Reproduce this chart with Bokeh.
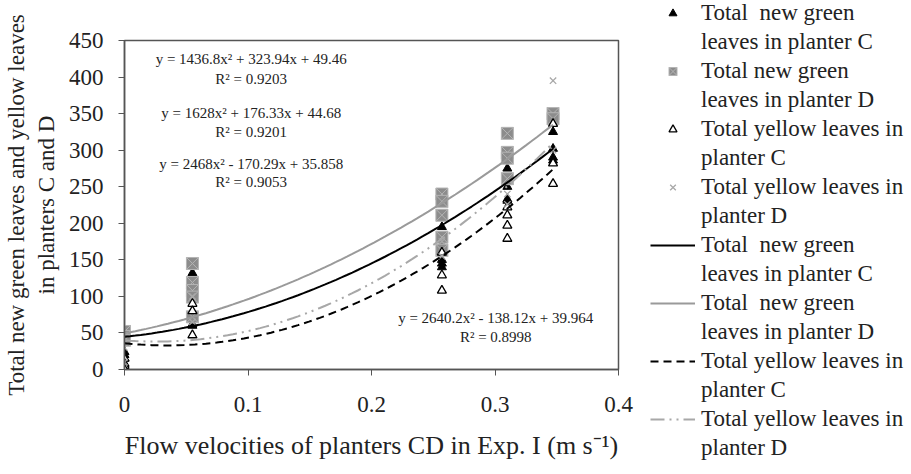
import numpy as np
from bokeh.plotting import figure
from bokeh.layouts import row, column
from bokeh.models import Range1d, FixedTicker, Legend, LegendItem, Label
from bokeh.embed import file_html
from bokeh.resources import INLINE

# ---------------- data ----------------
green_c_x = [0, 0, 0, 0.055, 0.055, 0.055, 0.055, 0.257, 0.257, 0.257, 0.257, 0.257,
             0.31, 0.31, 0.31, 0.31, 0.347, 0.347, 0.347, 0.347]
green_c_y = [24, 20, 15, 132, 75, 62, 60, 195, 170, 150, 145, 140,
             275, 250, 233, 231, 325, 302, 290, 286]

green_d_x = [0, 0, 0, 0.055, 0.055, 0.055, 0.055, 0.055, 0.257, 0.257, 0.257, 0.257, 0.257,
             0.31, 0.31, 0.31, 0.31, 0.347, 0.347]
green_d_y = [52, 45, 40, 145, 119, 108, 99, 72, 240, 230, 211, 181, 163,
             323, 297, 289, 261, 350, 343]

yellow_c_x = [0, 0, 0, 0, 0.055, 0.055, 0.055, 0.257, 0.257, 0.257,
              0.31, 0.31, 0.31, 0.31, 0.347, 0.347, 0.347]
yellow_c_y = [15, 8, 5, 0, 90, 80, 47, 160, 129, 108,
              222, 211, 197, 179, 336, 282, 254]

yellow_d_x = [0, 0, 0, 0.055, 0.055, 0.257, 0.257, 0.31, 0.31, 0.347, 0.347]
yellow_d_y = [40, 30, 10, 100, 65, 175, 155, 240, 226, 395, 300]

# quadratic trend-line coefficients (a, b, c) as printed on the chart
fit_green_c = [1628, 176.33, 44.68]
fit_green_d = [1436.8, 323.94, 49.46]
fit_yellow_c = [2468, -170.29, 35.858]
fit_yellow_d = [2640.2, -138.12, 39.964]
fit_x_max = 0.347

eq_texts = [
    "y = 1436.8x\u00b2 + 323.94x + 49.46", "R\u00b2 = 0.9203",
    "y = 1628x\u00b2 + 176.33x + 44.68", "R\u00b2 = 0.9201",
    "y = 2468x\u00b2 - 170.29x + 35.858", "R\u00b2 = 0.9053",
    "y = 2640.2x\u00b2 - 138.12x + 39.964", "R\u00b2 = 0.8998",
]

# legend entries: (first line, second line)
legend_labels = [
    ("Total  new green", "leaves in planter C"),
    ("Total new green", "leaves in planter D"),
    ("Total yellow leaves in", "planter C"),
    ("Total yellow leaves in", "planter D"),
    ("Total  new green", "leaves in planter C"),
    ("Total  new green", "leaves in planter D"),
    ("Total yellow leaves in", "planter C"),
    ("Total yellow leaves in", "planter D"),
]

x_ticks = [0, 0.1, 0.2, 0.3, 0.4]
x_tick_labels = ["0", "0.1", "0.2", "0.3", "0.4"]
y_ticks = [0, 50, 100, 150, 200, 250, 300, 350, 400, 450]

FONT = "Liberation Serif"
TXT = "#222222"

sty_gc = dict(marker="triangle", size=9, fill_color="black", line_color="black")
sty_gd = dict(marker="square_x", size=12, fill_color="#8c8c8c", line_color="#b4b4b4", line_width=1)
sty_yc = dict(marker="triangle", size=9, fill_color="white", line_color="black", line_width=1.3)
sty_yd = dict(marker="x", size=9, line_color="#a8a8a8", line_width=1.3)
lsty_gc = dict(line_color="black", line_width=2)
lsty_gd = dict(line_color="#9a9a9a", line_width=2)
lsty_yc = dict(line_color="black", line_width=2, line_dash="8 5")
lsty_yd = dict(line_color="#a8a8a8", line_width=2, line_dash="14 5 2 5 2 5")

p = figure(width=650, height=474, output_backend="svg", toolbar_location=None,
           x_range=Range1d(0, 0.4), y_range=Range1d(0, 450),
           min_border_left=123, min_border_right=32, min_border_top=40, min_border_bottom=105)
p.background_fill_color = "white"
p.border_fill_color = "white"
p.outline_line_color = "#555555"
p.outline_line_width = 1.5
p.grid.visible = False

p.xaxis.ticker = FixedTicker(ticks=x_ticks)
p.xaxis.major_label_overrides = {t: l for t, l in zip(x_ticks, x_tick_labels)}
p.yaxis.ticker = FixedTicker(ticks=y_ticks)
for ax in (p.xaxis, p.yaxis):
    ax.axis_line_color = "#555555"
    ax.axis_line_width = 1.5
    ax.major_tick_line_color = "#555555"
    ax.major_tick_out = 6
    ax.major_tick_in = 0
    ax.minor_tick_line_color = None
    ax.major_label_text_font = FONT
    ax.major_label_text_font_size = "23px"
    ax.major_label_text_color = TXT
    ax.axis_label_text_font = FONT
    ax.axis_label_text_font_style = "normal"
    ax.axis_label_text_color = TXT
p.xaxis.axis_label_text_font_size = "26px"
p.yaxis.axis_label_text_font_size = "23px"
p.xaxis.axis_label = "Flow velocities of planters CD in Exp. I (m s\u207b\u00b9)"
p.xaxis.major_label_standoff = 21
p.xaxis.axis_label_standoff = 16
p.yaxis.axis_label = "Total new green leaves and yellow leaves\nin planters C and D"
p.yaxis.major_label_standoff = 15
p.yaxis.axis_label_standoff = 7

# markers
p.scatter(green_c_x, green_c_y, **sty_gc)
p.scatter(green_d_x, green_d_y, **sty_gd)
p.scatter(yellow_c_x, yellow_c_y, **sty_yc)
p.scatter(yellow_d_x, yellow_d_y, **sty_yd)

# trend lines
xs = np.linspace(0, fit_x_max, 80)
def quad(c):
    return c[0] * xs ** 2 + c[1] * xs + c[2]

p.line(xs, quad(fit_green_c), **lsty_gc)
p.line(xs, quad(fit_green_d), **lsty_gd)
p.line(xs, quad(fit_yellow_c), **lsty_yc)
p.line(xs, quad(fit_yellow_d), **lsty_yd)

# equation labels
eq_pos = [(0.1026, 425), (0.1026, 398), (0.1026, 351), (0.1026, 325),
          (0.1026, 281), (0.1026, 256), (0.3006, 70), (0.3006, 44)]
for (ex, ey), t in zip(eq_pos, eq_texts):
    p.add_layout(Label(x=ex, y=ey, text=t, text_align="center", text_baseline="middle",
                       text_font=FONT, text_font_size="15px", text_color=TXT))

# ---------------- legend panel (separate figure) ----------------
lg = figure(width=261, height=474, output_backend="svg", toolbar_location=None,
            x_range=Range1d(-10, -9), y_range=Range1d(-10, -9),
            min_border_left=0, min_border_right=0, min_border_top=0, min_border_bottom=0)
lg.axis.visible = False
lg.grid.visible = False
lg.outline_line_color = None
lg.background_fill_color = "white"
lg.border_fill_color = "white"

# same series drawn in the legend figure (outside its visible range) to provide swatches
rs = [
    lg.scatter(green_c_x, green_c_y, **sty_gc),
    lg.scatter(green_d_x, green_d_y, **sty_gd),
    lg.scatter(yellow_c_x, yellow_c_y, **sty_yc),
    lg.scatter(yellow_d_x, yellow_d_y, **sty_yd),
    lg.line(xs, quad(fit_green_c), **lsty_gc),
    lg.line(xs, quad(fit_green_d), **lsty_gd),
    lg.line(xs, quad(fit_yellow_c), **lsty_yc),
    lg.line(xs, quad(fit_yellow_d), **lsty_yd),
]
items = []
for (first, second), r in zip(legend_labels, rs):
    spacer = lg.line(x=[], y=[], line_alpha=0)
    items.append(LegendItem(label=first, renderers=[r]))
    items.append(LegendItem(label=second, renderers=[spacer]))

legend = Legend(items=items, location="top_left", label_text_font=FONT,
                label_text_font_size="23px", label_text_color=TXT,
                spacing=3, padding=0, margin=0,
                glyph_width=45, glyph_height=20, label_standoff=6,
                border_line_color=None, background_fill_alpha=0)
lg.add_layout(legend, "center")

layout = row(p, column(lg))
open("out.html", "w").write(file_html(layout, INLINE))
